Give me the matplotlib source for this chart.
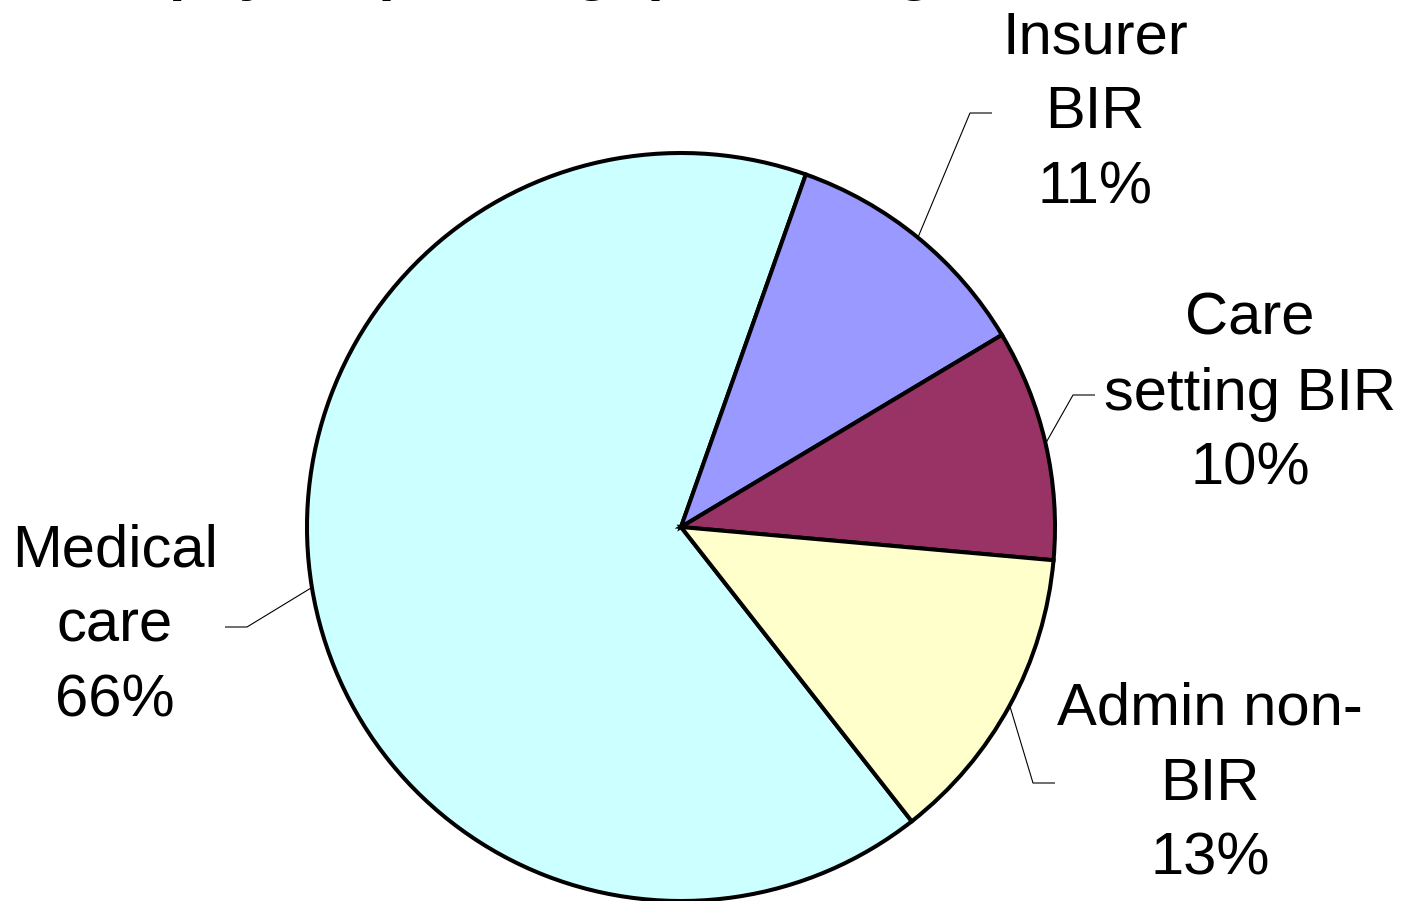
import numpy as np
import matplotlib.pyplot as plt

plt.rcParams['font.family'] = ['Liberation Sans', 'DejaVu Sans']

# spending shares, in the order the wedges are drawn (clockwise)
categories = ["Medical care", "Insurer BIR", "Care setting BIR", "Admin non-BIR"]
label_text = ["Medical\ncare", "Insurer\nBIR", "Care\nsetting BIR", "Admin non-\nBIR"]
shares = [66, 11, 10, 13]
colors = ["#CCFFFF", "#9999FF", "#993366", "#FFFFCC"]

W, H = 1403, 901
fig = plt.figure(figsize=(W / 100, H / 100), dpi=100)
ax = fig.add_axes([0, 0, 1, 1])

cx, cy, r = 681, H - 527, 374
wedges, _ = ax.pie(shares, colors=colors, startangle=308.1, counterclock=False,
                   center=(cx, cy), radius=r,
                   wedgeprops=dict(edgecolor="black", linewidth=2.9))

ax.set_xlim(0, W)
ax.set_ylim(0, H)
ax.set_aspect("equal")
ax.axis("off")

# label block centre, and the elbow of the leader line (pixels from top-left)
label_pos = [(115, 626), (1095, 113), (1250, 394), (1210, 784)]
elbows = [((247, 627), (225, 627)), ((970, 113), (992, 113)),
          ((1073, 395), (1095, 395)), ((1033, 783), (1055, 783))]

for w, txt, val, (lx, ly), (e1, e2) in zip(wedges, label_text, shares, label_pos, elbows):
    mid = np.deg2rad((w.theta1 + w.theta2) / 2)
    sx, sy = cx + r * np.cos(mid), cy + r * np.sin(mid)
    ax.plot([sx, e1[0], e2[0]], [sy, H - e1[1], H - e2[1]],
            color="black", linewidth=0.8, solid_capstyle="butt")
    ax.text(lx, H - ly, f"{txt}\n{val}%", ha="center", va="center",
            fontsize=43, linespacing=1.47)

# title sits above the top edge, only its descenders reach into the figure
ax.text(76, H + 11, "All payer spending: percentage of total",
        ha="left", va="baseline", fontsize=43, fontweight="bold")

fig.savefig("out.png", dpi=100)
